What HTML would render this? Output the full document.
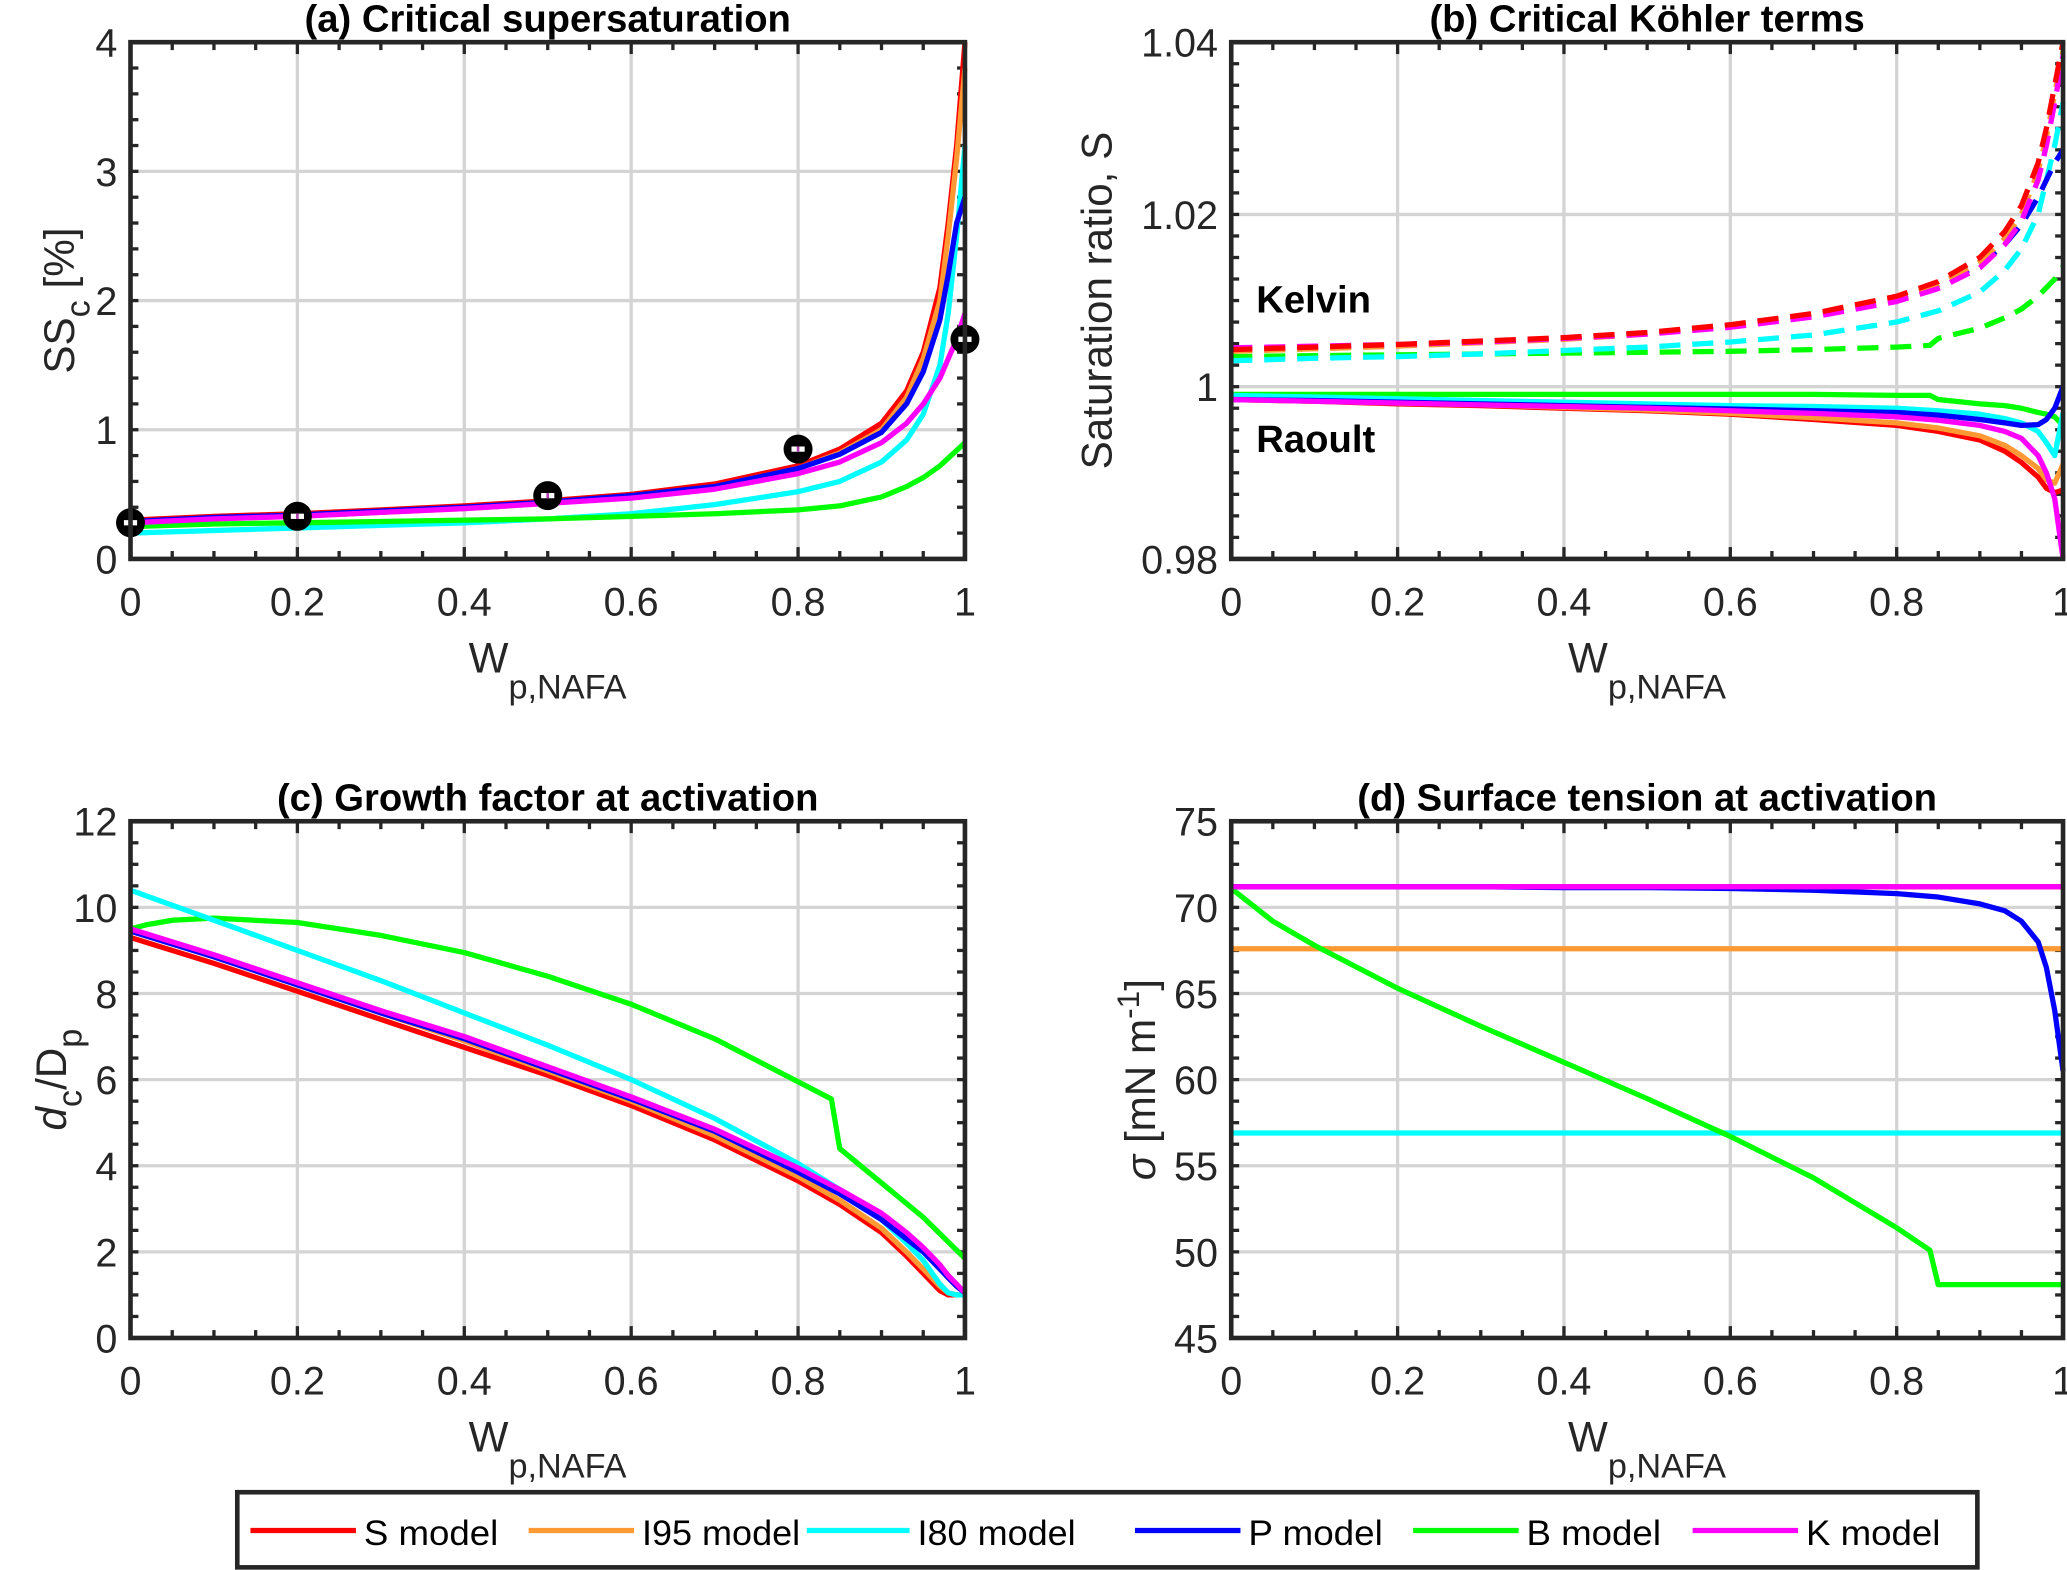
<!DOCTYPE html>
<html><head><meta charset="utf-8">
<style>
html,body{margin:0;padding:0;background:#fff;}
svg{display:block;font-family:"Liberation Sans",Arial,sans-serif;}
</style></head>
<body>
<svg id="fig" width="2067" height="1570" viewBox="0 0 1568 1191" preserveAspectRatio="none" xmlns="http://www.w3.org/2000/svg"></svg>
<script>
// ---------- data ----------
const xs = [0,0.1,0.2,0.3,0.4,0.5,0.6,0.7,0.8,0.85,0.9,0.93,0.95,0.97,0.98,0.99,1.0];
const modelNames = ["S model","I95 model","I80 model","P model","B model","K model"];
const modelColors = ["#ff0000","#ff9933","#00ffff","#0000ff","#00ff00","#ff00ff"];
const xTickLabels = ["0","0.2","0.4","0.6","0.8","1"];

// (a) critical supersaturation [%]
const ssS   = [0.30,0.33,0.35,0.38,0.41,0.45,0.50,0.58,0.72,0.85,1.05,1.30,1.60,2.10,2.60,3.20,4.00];
const ssI95 = [0.28,0.31,0.33,0.36,0.39,0.43,0.48,0.56,0.70,0.82,1.00,1.25,1.55,2.00,2.50,3.10,3.80];
const ssI80 = [0.20,0.22,0.24,0.26,0.28,0.31,0.35,0.42,0.52,0.60,0.75,0.92,1.12,1.50,1.90,2.50,3.20];
const ssP   = [0.29,0.32,0.34,0.37,0.40,0.44,0.49,0.56,0.70,0.81,0.98,1.20,1.45,1.85,2.20,2.60,2.80];
const ssB   = [0.25,0.27,0.28,0.29,0.30,0.31,0.33,0.35,0.38,0.41,0.48,0.56,0.63,0.72,0.78,0.84,0.90];
const ssK   = [0.28,0.31,0.33,0.36,0.39,0.43,0.47,0.54,0.66,0.75,0.90,1.05,1.20,1.40,1.55,1.70,1.90];
const obsX  = [0,0.2,0.5,0.8,1.0];
const obsY  = [0.28,0.33,0.49,0.85,1.70];
const aTicks = [0,1,2,3,4];

// (b) Köhler terms
const bBx = [0,0.1,0.2,0.3,0.4,0.5,0.6,0.7,0.8,0.84,0.85,0.9,0.93,0.95,0.97,0.98,0.99,1.0];
const kelS   = [1.0043,1.0046,1.0049,1.0053,1.0057,1.0063,1.0072,1.0085,1.0105,1.0122,1.0150,1.0180,1.0210,1.0260,1.0300,1.0350,1.0400];
const kelI95 = [1.0041,1.0044,1.0047,1.0051,1.0055,1.0061,1.0070,1.0083,1.0102,1.0118,1.0145,1.0172,1.0200,1.0250,1.0290,1.0340,1.0390];
const kelI80 = [1.0030,1.0033,1.0035,1.0038,1.0042,1.0046,1.0052,1.0060,1.0075,1.0088,1.0110,1.0135,1.0160,1.0200,1.0240,1.0280,1.0330];
const kelP   = [1.0042,1.0045,1.0048,1.0052,1.0056,1.0062,1.0071,1.0083,1.0102,1.0118,1.0142,1.0165,1.0188,1.0220,1.0240,1.0260,1.0275];
const kelB   = [1.0035,1.0036,1.0037,1.0038,1.0039,1.0040,1.0041,1.0043,1.0046,1.0048,1.0056,1.0068,1.0080,1.0090,1.0105,1.0115,1.0125,1.0140];
const kelK   = [1.0045,1.0047,1.0049,1.0052,1.0056,1.0061,1.0069,1.0081,1.0099,1.0114,1.0138,1.0165,1.0192,1.0240,1.0280,1.0330,1.0385];
const raoS   = [0.9985,0.9983,0.9980,0.9978,0.9975,0.9972,0.9968,0.9962,0.9955,0.9948,0.9938,0.9925,0.9912,0.9895,0.9882,0.9877,0.9880];
const raoI95 = [0.9985,0.9983,0.9981,0.9979,0.9976,0.9973,0.9969,0.9964,0.9958,0.9952,0.9943,0.9932,0.9920,0.9905,0.9892,0.9888,0.9910];
const raoI80 = [0.9990,0.9988,0.9986,0.9984,0.9982,0.9980,0.9978,0.9977,0.9975,0.9972,0.9968,0.9963,0.9958,0.9948,0.9935,0.9920,0.9970];
const raoP   = [0.9985,0.9984,0.9982,0.9980,0.9978,0.9976,0.9974,0.9972,0.9970,0.9967,0.9962,0.9958,0.9955,0.9956,0.9962,0.9975,1.0000];
const raoB   = [0.9991,0.9991,0.9991,0.9991,0.9991,0.9991,0.9991,0.9991,0.9990,0.9990,0.9985,0.9980,0.9978,0.9975,0.9970,0.9968,0.9965,0.9955];
const raoK   = [0.9985,0.9983,0.9981,0.9979,0.9977,0.9975,0.9972,0.9969,0.9965,0.9961,0.9955,0.9948,0.9940,0.9920,0.9900,0.9870,0.9800];
const bTicks = [0.98,1,1.02,1.04];
const bTickLabels = ["0.98","1","1.02","1.04"];

// (c) growth factor
const cBx = [0,0.02,0.05,0.1,0.2,0.3,0.4,0.5,0.6,0.7,0.8,0.84,0.85,0.9,0.95,1.0];
const gfS   = [9.30,8.70,8.05,7.40,6.75,6.10,5.40,4.60,3.65,3.10,2.45,1.90,1.50,1.10,1.00,1.00,1.00];
const gfI95 = [9.45,8.85,8.20,7.55,6.90,6.20,5.50,4.70,3.75,3.20,2.55,2.00,1.60,1.20,1.05,1.00,1.00];
const gfI80 = [10.40,9.70,9.00,8.30,7.55,6.80,6.00,5.10,4.05,3.45,2.75,2.20,1.80,1.25,1.05,1.00,1.00];
const gfP   = [9.45,8.85,8.20,7.55,6.95,6.25,5.55,4.80,3.85,3.35,2.75,2.30,2.00,1.60,1.40,1.20,1.05];
const gfB   = [9.50,9.60,9.70,9.75,9.65,9.35,8.95,8.40,7.75,6.95,5.95,5.55,4.40,3.60,2.80,1.85];
const gfK   = [9.50,8.90,8.25,7.60,7.00,6.30,5.60,4.85,3.95,3.45,2.90,2.45,2.10,1.70,1.45,1.25,1.05];
const cTicks = [0,2,4,6,8,10,12];

// (d) surface tension
const dBx = [0,0.05,0.1,0.2,0.3,0.4,0.5,0.6,0.7,0.8,0.84,0.85,1.0];
const stS   = [71.2,71.2,71.2,71.2,71.2,71.2,71.2,71.2,71.2,71.2,71.2,71.2,71.2,71.2,71.2,71.2,71.2];
const stI95 = [67.6,67.6,67.6,67.6,67.6,67.6,67.6,67.6,67.6,67.6,67.6,67.6,67.6,67.6,67.6,67.6,67.6];
const stI80 = [56.9,56.9,56.9,56.9,56.9,56.9,56.9,56.9,56.9,56.9,56.9,56.9,56.9,56.9,56.9,56.9,56.9];
const stP   = [71.2,71.2,71.2,71.2,71.15,71.15,71.1,71.0,70.8,70.6,70.2,69.8,69.2,68.0,66.5,64.0,60.5];
const stB   = [71.1,69.2,67.8,65.3,63.1,61.0,58.9,56.7,54.3,51.4,50.1,48.1,48.1];
const stK   = [71.2,71.2,71.2,71.2,71.2,71.2,71.2,71.2,71.2,71.2,71.2,71.2,71.2,71.2,71.2,71.2,71.2];
const dTicks = [45,50,55,60,65,70,75];

// ---------- drawing ----------
const NS="http://www.w3.org/2000/svg";
const svg=document.getElementById('fig');
function mk(tag,attrs,parent){const e=document.createElementNS(NS,tag);for(const k in attrs)e.setAttribute(k,attrs[k]);(parent||svg).appendChild(e);return e;}
const TF=30;

function makePanel(key,L,R,T,B,ymin,ymax,yt,ytl,yminor,title){
  const g=mk('g',{});
  
  
  const sx=v=>L+(v-0)/(1-0)*(R-L);
  const sy=v=>B-(v-ymin)/(ymax-ymin)*(B-T);
  for(let i=0;i<=5;i++){const x=sx(i*0.2);
    const gl=mk('line',{x1:x,x2:x,y1:T,y2:B,stroke:'#d4d4d4','stroke-width':2.5},g);
    }
  yt.forEach(v=>{const y=sy(v);
    const gl=mk('line',{x1:L,x2:R,y1:y,y2:y,stroke:'#d4d4d4','stroke-width':2.5},g);
    });
  for(let i=0;i<=20;i++){const x=sx(i*0.05);const len=(i%4===0)?9:6;
    mk('line',{x1:x,x2:x,y1:B,y2:B-len,stroke:'#262626','stroke-width':2.5},g);
    mk('line',{x1:x,x2:x,y1:T,y2:T+len,stroke:'#262626','stroke-width':2.5},g);}
  for(let v=ymin;v<=ymax+1e-9;v+=yminor){const y=sy(v);
    mk('line',{x1:L,x2:L+6,y1:y,y2:y,stroke:'#262626','stroke-width':2.5},g);
    mk('line',{x1:R,x2:R-6,y1:y,y2:y,stroke:'#262626','stroke-width':2.5},g);}
  xTickLabels.forEach((t,i)=>{const tx=mk('text',{x:sx(i*0.2),y:B+43,'font-size':TF,'text-anchor':'middle',fill:'#262626'},g);tx.textContent=t;
    });
  yt.forEach((v,i)=>{const tx=mk('text',{x:L-10,y:sy(v)+11,'font-size':TF,'text-anchor':'end',fill:'#262626'},g);tx.textContent=ytl[i];
    });
  const tt=mk('text',{x:(L+R)/2,y:T-8,'font-size':29,'font-weight':'bold','text-anchor':'middle',fill:'#000'},g);tt.textContent=title;
  
  const xl=mk('text',{x:(L+R)/2-60,y:B+86,'font-size':32,fill:'#262626'},g);
  
  xl.appendChild(document.createTextNode('W'));
  const sub=mk('tspan',{dy:20,'font-size':26},xl);sub.textContent='p,NAFA';
  const clip=mk('clipPath',{id:'clip'+key},g);mk('rect',{x:L,y:T-2,width:R-L+2,height:B-T+4},clip);
  const plot=mk('g',{'clip-path':'url(#clip'+key+')'},g);
  return {g,plot,sx,sy,L,R,T,B};
}
function frame(p){const r=mk('rect',{x:p.L,y:p.T,width:p.R-p.L,height:p.B-p.T,fill:'none',stroke:'#262626','stroke-width':3.5},p.g);
  }
function series(p,xv,yv,color,name,dash){
  const pts=xv.map((x,i)=>p.sx(x).toFixed(1)+','+p.sy(yv[i]).toFixed(1)).join(' ');
  const a={points:pts,fill:'none',stroke:color,'stroke-width':4,'stroke-linejoin':'round'};
  if(dash)a['stroke-dasharray']='16,9';
  const pl=mk('polyline',a,p.plot);
  
  
}

// Panel a
const pa=makePanel('a',99,732,32,424,0,4,aTicks,aTicks.map(String),0.2,'(a) Critical supersaturation');
[[ssS,0],[ssI95,1],[ssI80,2],[ssB,4],[ssP,3],[ssK,5]].forEach(([d,i])=>series(pa,xs,d,modelColors[i],'ssc-'+modelNames[i].split(' ')[0].toLowerCase()+'-line'));
obsX.forEach((x,i)=>{const cx=pa.sx(x),cy=pa.sy(obsY[i]);
  const c=mk('circle',{cx:cx,cy:cy,r:11,fill:'#000'},pa.g);
  
  mk('rect',{x:cx-5,y:cy-2,width:10,height:4,fill:'#fff'},pa.g);
  mk('rect',{x:cx-1,y:cy-2,width:2,height:4,fill:'#b040b0'},pa.g);});
frame(pa);
const yla=mk('text',{transform:'translate(56,228) rotate(-90)','font-size':32,'text-anchor':'middle',fill:'#262626'},pa.g);

yla.appendChild(document.createTextNode('SS'));let s1=mk('tspan',{dy:12,'font-size':26},yla);s1.textContent='c';
let s2=mk('tspan',{dy:-12},yla);s2.textContent=' [%]';

// Panel b
const pb=makePanel('b',934,1565,32,424,0.98,1.04,bTicks,bTickLabels,0.0025,'(b) Critical Köhler terms');
[[kelB,4]].forEach(([d,i])=>series(pb,bBx,d,modelColors[i],'kelvin-b-line',true));
[[kelI80,2],[kelP,3],[kelI95,1],[kelK,5],[kelS,0]].forEach(([d,i])=>series(pb,xs,d,modelColors[i],'kelvin-'+modelNames[i].split(' ')[0].toLowerCase()+'-line',true));
series(pb,bBx,raoB,modelColors[4],'raoult-b-line',false);
[[raoS,0],[raoI95,1],[raoI80,2],[raoP,3],[raoK,5]].forEach(([d,i])=>series(pb,xs,d,modelColors[i],'raoult-'+modelNames[i].split(' ')[0].toLowerCase()+'-line',false));
frame(pb);
const ylb=mk('text',{transform:'translate(843,228) rotate(-90)','font-size':32,'text-anchor':'middle',fill:'#262626'},pb.g);ylb.textContent='Saturation ratio,  S';

const kt=mk('text',{x:953,y:237,'font-size':29,'font-weight':'bold',fill:'#000'},pb.g);kt.textContent='Kelvin';

const rt=mk('text',{x:953,y:343,'font-size':29,'font-weight':'bold',fill:'#000'},pb.g);rt.textContent='Raoult';


// Panel c
const pc=makePanel('c',99,732,623,1015,0,12,cTicks,cTicks.map(String),0.5,'(c) Growth factor at activation');
series(pc,cBx,gfB,modelColors[4],'gf-b-line');
[[gfS,0],[gfI95,1],[gfI80,2],[gfP,3],[gfK,5]].forEach(([d,i])=>series(pc,xs,d,modelColors[i],'gf-'+modelNames[i].split(' ')[0].toLowerCase()+'-line'));
frame(pc);
const ylc=mk('text',{transform:'translate(50,819) rotate(-90)','font-size':32,'text-anchor':'middle',fill:'#262626'},pc.g);

let c1=mk('tspan',{'font-style':'italic'},ylc);c1.textContent='d';
let c2=mk('tspan',{dy:12,'font-size':26},ylc);c2.textContent='c';
let c3=mk('tspan',{dy:-12},ylc);c3.textContent='/D';
let c4=mk('tspan',{dy:12,'font-size':26},ylc);c4.textContent='p';

// Panel d
const pd=makePanel('d',934,1565,623,1015,45,75,dTicks,dTicks.map(String),1.25,'(d) Surface tension at activation');
[[stS,0],[stI95,1],[stI80,2],[stP,3]].forEach(([d,i])=>series(pd,xs,d,modelColors[i],'st-'+modelNames[i].split(' ')[0].toLowerCase()+'-line'));
series(pd,dBx,stB,modelColors[4],'st-b-line');
series(pd,xs,stK,modelColors[5],'st-k-line');
frame(pd);
const yld=mk('text',{transform:'translate(876,819) rotate(-90)','font-size':32,'text-anchor':'middle',fill:'#262626'},pd.g);

let d1=mk('tspan',{'font-style':'italic'},yld);d1.textContent='σ';
let d2=mk('tspan',{},yld);d2.textContent=' [mN m';
let d3=mk('tspan',{dy:-12,'font-size':24},yld);d3.textContent='-1';
let d4=mk('tspan',{dy:12},yld);d4.textContent=']';

// Legend
const lg=mk('g',{});


mk('rect',{x:180,y:1132,width:1320,height:57,fill:'#fff',stroke:'#262626','stroke-width':3.5},lg);
const legX=[190,401,612,861,1072,1284];
const legW=[80,80,78,80,80,80];
modelNames.forEach((n,i)=>{
  const e=mk('g',{},lg);
  
  
  mk('line',{x1:legX[i],x2:legX[i]+legW[i],y1:1161,y2:1161,stroke:modelColors[i],'stroke-width':4},e);
  const t=mk('text',{x:legX[i]+legW[i]+6,y:1172,'font-size':27,fill:'#000',textLength:(i===0||i===3||i===4||i===5)?102:120,lengthAdjust:'spacingAndGlyphs'},e);t.textContent=n;
});
</script>
</body></html>
